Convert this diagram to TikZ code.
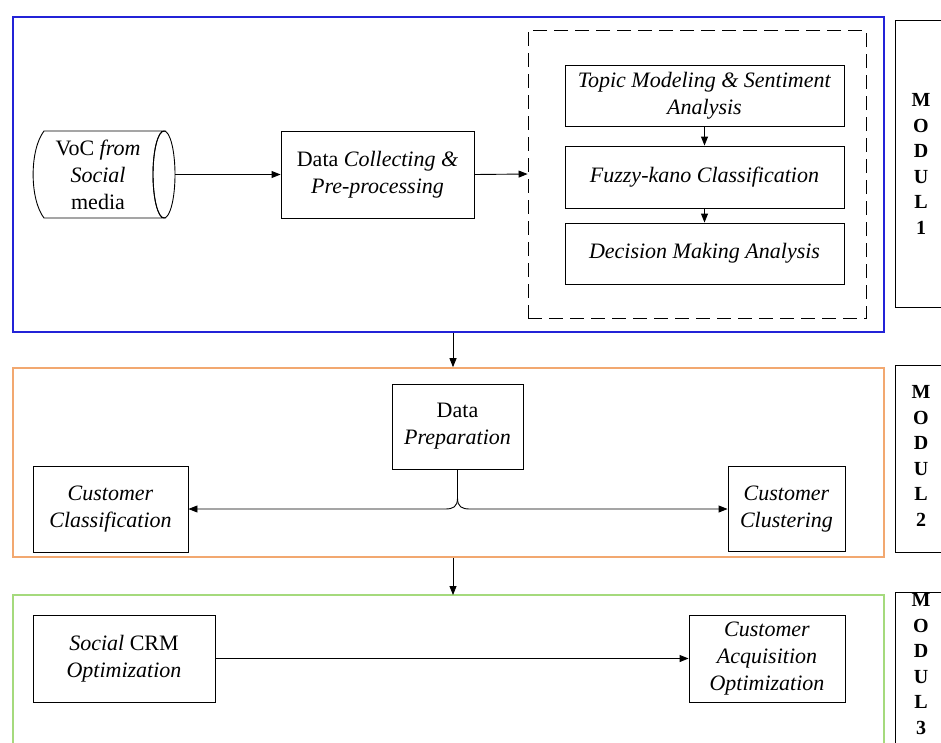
\documentclass[tikz,border=0pt]{standalone}
\usepackage{fontspec}
\setmainfont{Liberation Serif}
\usetikzlibrary{arrows.meta}
\definecolor{modblue}{RGB}{35,35,215}
\definecolor{modorange}{RGB}{242,168,112}
\definecolor{modgreen}{RGB}{165,218,125}
\begin{document}
\begin{tikzpicture}[x=1pt,y=-1pt,
  txt/.style={align=center,inner sep=1pt,font=\fontsize{22}{27}\selectfont},
  box/.style={txt,draw,line width=0.9pt},
  arr/.style={-{Triangle[length=9pt,width=7pt]},line width=0.9pt},
  modframe/.style={line width=1.6pt},
  modlabel/.style={align=center,inner sep=0pt,font=\bfseries\fontsize{20}{25.5}\selectfont},
  labframe/.style={line width=0.9pt}]
\useasboundingbox (0,0) rectangle (941,742);
\fill[white] (0,0) rectangle (941,742);

% module frames
\node[draw=modblue,modframe,minimum width=871pt,minimum height=315pt,inner sep=0pt] (m1) at (448.5,174.5) {};
\node[draw=modorange,modframe,minimum width=871pt,minimum height=189pt,inner sep=0pt] (m2) at (448.5,462.5) {};
\draw[modgreen,modframe] (13,743) -- (13,595) -- (884,595) -- (884,743);
\coordinate (m3top) at (453,595);

% module label frames
\draw[labframe] (943,20) -- (895,20) -- (895,307) -- (943,307);
\draw[labframe] (943,365) -- (895,365) -- (895,552) -- (943,552);
\draw[labframe] (943,592) -- (895,592) -- (895,743);
\node[modlabel] (l1) at (921,164) {M\\O\\D\\U\\L\\1};
\node[modlabel] (l2) at (921,456) {M\\O\\D\\U\\L\\2};
\node[modlabel] (l3) at (921,664) {M\\O\\D\\U\\L\\3};

% module 1: cylinder
\node[minimum width=142pt,minimum height=87pt,inner sep=0pt] (voc) at (104,174.5) {};
\draw[line width=0.9pt] (44,131) .. controls (29.5,150) and (29.5,199) .. (44,218) -- (164,218)
   arc[start angle=270,end angle=90,x radius=11pt,y radius=43.5pt] -- cycle;
\draw[line width=0.9pt] (164,174.5) ellipse[x radius=11pt,y radius=43.5pt];
\node[txt] (voctext) at (98,174.5) {VoC \textit{from}\\\textit{Social}\\media};

\node[box,minimum width=193pt,minimum height=87pt] (dc) at (377.5,174.5)
      {Data \textit{Collecting \&}\\\textit{Pre-processing}};
\node[draw,line width=0.9pt,dash pattern=on 14pt off 7pt,minimum width=338pt,minimum height=288pt,inner sep=0pt] (dashbox) at (697,174) {};
\node[box,minimum width=279pt,minimum height=61pt] (topic) at (704.5,95.5)
      {\textit{Topic Modeling \& Sentiment}\\\textit{Analysis}};
\node[box,minimum width=279pt,minimum height=62pt] (fuzzy) at (704.5,177)
      {\textit{Fuzzy-kano Classification}};
\node[box,minimum width=279pt,minimum height=61pt] (dec) at (704.5,253.5)
      {\textit{Decision Making Analysis}};

\draw[arr] (voc.east) -- (dc.west);
\draw[arr] (dc.east) -- (dashbox.west);
\draw[arr] (topic.south) -- (fuzzy.north);
\draw[arr] (fuzzy.south) -- (dec.north);

% module 2
\node[box,minimum width=131pt,minimum height=85pt] (dp) at (457.5,426.5)
      {Data\\\textit{Preparation}};
\node[box,minimum width=155pt,minimum height=86pt] (cclass) at (110.5,509)
      {\textit{Customer}\\\textit{Classification}};
\node[box,minimum width=117pt,minimum height=85pt] (cclust) at (786.5,509)
      {\textit{Customer}\\\textit{Clustering}};
\coordinate (tip) at (457.5,498);
\draw[line width=0.9pt] (dp.south) -- (tip);
\draw[arr] (tip) .. controls (457.5,507) and (453,509) .. (445,509) -- (cclass.east);
\draw[arr] (tip) .. controls (457.5,507) and (462,509) .. (470,509) -- (cclust.west);

% module 3
\node[box,minimum width=182pt,minimum height=87pt] (scrm) at (124,658.5)
      {\textit{Social} CRM\\\textit{Optimization}};
\node[box,minimum width=156pt,minimum height=87pt] (cacq) at (767,658.5)
      {\textit{Customer}\\\textit{Acquisition}\\\textit{Optimization}};
\draw[arr] (scrm.east) -- (cacq.west);

% between modules
\draw[arr] ([xshift=4.5pt]m1.south) -- ([xshift=4.5pt]m2.north);
\draw[arr] ([xshift=4.5pt]m2.south) -- (m3top);
\end{tikzpicture}
\end{document}
